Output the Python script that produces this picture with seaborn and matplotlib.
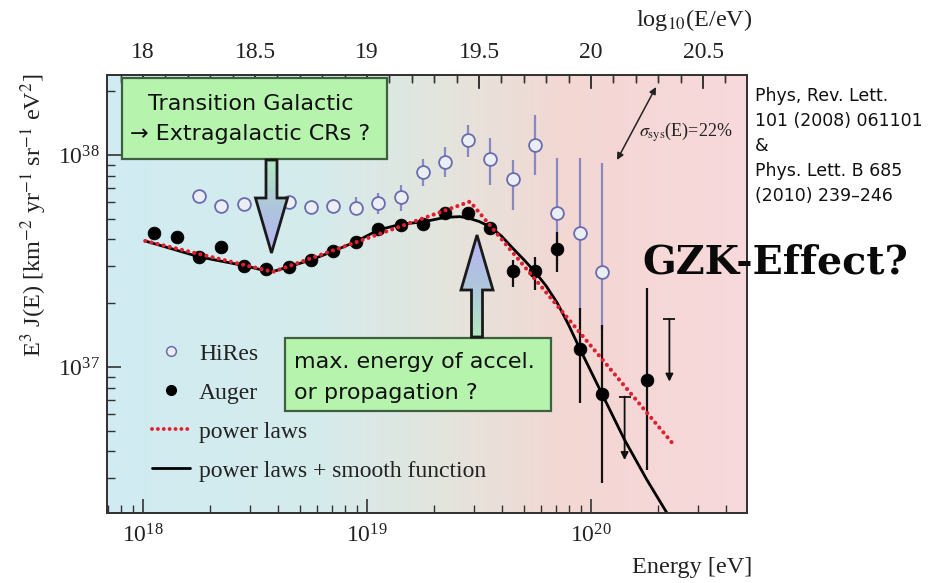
import numpy as np
import pandas as pd
import matplotlib
matplotlib.use("Agg")
import matplotlib.pyplot as plt
import seaborn as sns
from matplotlib.colors import LinearSegmentedColormap
from matplotlib.patches import Polygon, Rectangle
from matplotlib.lines import Line2D
from matplotlib.ticker import MultipleLocator, FuncFormatter, NullFormatter, LogLocator

# ---------------- data (log10 E/eV ; E^3 J in units of 1e37) ----------------
auger_logE = [18.05, 18.15, 18.25, 18.35, 18.45, 18.55, 18.65, 18.75, 18.85, 18.95, 19.05,
              19.15, 19.25, 19.35, 19.45, 19.55, 19.65, 19.75, 19.85, 19.95, 20.05, 20.25]
auger_J = [4.30, 4.09, 3.29, 3.69, 3.01, 2.89, 2.97, 3.20, 3.52, 3.90, 4.47,
           4.68, 4.73, 5.31, 5.31, 4.55, 2.84, 2.84, 3.61, 1.22, 0.743, 0.869]
auger_lo = [4.15, 3.95, 3.19, 3.58, 2.93, 2.82, 2.90, 3.12, 3.42, 3.78, 4.33,
            4.52, 4.55, 5.08, 5.02, 4.20, 2.38, 2.31, 2.81, 0.676, 0.284, 0.327]
auger_hi = [4.45, 4.23, 3.39, 3.80, 3.09, 2.96, 3.04, 3.28, 3.62, 4.02, 4.61,
            4.84, 4.91, 5.54, 5.60, 4.83, 3.20, 3.30, 4.34, 1.90, 1.58, 2.36]
auger_ul_logE = [20.15, 20.35]
auger_ul_top = [0.725, 1.68]
auger_ul_tip = [0.364, 0.853]

hires_logE = [18.25, 18.35, 18.45, 18.55, 18.65, 18.75, 18.85, 18.95, 19.05, 19.15,
              19.25, 19.35, 19.45, 19.55, 19.65, 19.75, 19.85, 19.95, 20.05]
hires_J = [6.41, 5.74, 5.88, 5.81, 6.03, 5.71, 5.77, 5.64, 5.92, 6.36,
           8.28, 9.29, 11.8, 9.55, 7.71, 11.1, 5.34, 4.27, 2.82]
hires_lo = [6.20, 5.55, 5.68, 5.60, 5.75, 5.27, 5.32, 5.21, 5.27, 5.45,
            7.14, 7.88, 9.79, 7.21, 5.51, 8.05, 3.03, 1.86, 1.50]
hires_hi = [6.62, 5.93, 6.08, 6.02, 6.32, 6.03, 6.19, 6.34, 6.62, 7.21,
            9.58, 10.9, 13.9, 12.0, 9.46, 15.4, 9.68, 9.68, 9.17]

pl_logE = [18.01, 18.58, 19.46, 20.37]
pl_J = [3.93, 2.81, 6.03, 0.429]

sm_logE = [18.01, 18.25, 18.45, 18.55, 18.58, 18.65, 18.75, 18.85, 18.95, 19.05, 19.15,
           19.25, 19.35, 19.415, 19.45, 19.50, 19.55, 19.60, 19.65, 19.70, 19.75, 19.80,
           19.85, 19.90, 19.95, 20.05, 20.15, 20.25, 20.34, 20.40]
sm_J = [3.93, 3.31, 3.01, 2.84, 2.82, 2.97, 3.20, 3.52, 3.90, 4.43, 4.71,
        4.84, 5.08, 5.12, 5.05, 4.86, 4.59, 4.15, 3.64, 3.21, 2.81, 2.41,
        2.00, 1.58, 1.22, 0.743, 0.453, 0.293, 0.204, 0.158]

top_ticks = [18, 18.5, 19, 19.5, 20, 20.5]
UNIT = 1e37

def E(v):
    return 10 ** np.asarray(v, dtype=float)

def J(v):
    return np.asarray(v, dtype=float) * UNIT

# ---------------- style ----------------
sns.set_theme(style="ticks")
plt.rcParams["font.family"] = ["Liberation Serif", "DejaVu Serif"]
plt.rcParams["mathtext.fontset"] = "stix"
AX_COL = "#333333"
TXT = "#222222"

W, H = 946, 583
fig = plt.figure(figsize=(W / 100, H / 100), dpi=100)
fig.patch.set_facecolor("white")
L, R, T, B = 107, 747, 75, 513
LOGX0, LOGX1 = 17.8393, 20.6964
ax = fig.add_axes([L / W, 1 - B / H, (R - L) / W, (B - T) / H])
ax.set_xscale("log")
ax.set_yscale("log")
ax.set_xlim(10 ** LOGX0, 10 ** LOGX1)
ax.set_ylim(10 ** 36.3113, 10 ** 38.3774)

# gradient background
cmap = LinearSegmentedColormap.from_list("bg", [
    (0.0, "#d0ecf2"), (0.33, "#d5ebec"), (0.52, "#e3e5dd"),
    (0.72, "#f3d7d3"), (1.0, "#f8d9dc")])
grad = np.linspace(0, 1, 256).reshape(1, -1)
ax.imshow(grad, extent=(0, 1, 0, 1), transform=ax.transAxes, aspect="auto",
          cmap=cmap, zorder=-10, interpolation="bicubic")

# error bars
hx = E(hires_logE)
ax.errorbar(hx, J(hires_J), yerr=[J(hires_J) - J(hires_lo), J(hires_hi) - J(hires_J)],
            fmt="none", ecolor="#8a88c0", elinewidth=1.6, capsize=0, zorder=2)
axx = E(auger_logE)
ax.errorbar(axx, J(auger_J), yerr=[J(auger_J) - J(auger_lo), J(auger_hi) - J(auger_J)],
            fmt="none", ecolor="#111111", elinewidth=1.6, capsize=0, zorder=3)

# markers
hires_df = pd.DataFrame({"E": hx, "J": J(hires_J)})
sns.scatterplot(data=hires_df, x="E", y="J", ax=ax, marker="o", s=85,
                facecolor="#eceef6", edgecolor="#6a6cb0", linewidth=1.3, zorder=4)
auger_df = pd.DataFrame({"E": axx, "J": J(auger_J)})
sns.scatterplot(data=auger_df, x="E", y="J", ax=ax, marker="o", s=85,
                color="black", edgecolor="black", linewidth=0.5, zorder=5)

# upper limits
for xl, yt, yp in zip(E(auger_ul_logE), J(auger_ul_top), J(auger_ul_tip)):
    ax.annotate("", xy=(xl, yp), xytext=(xl, yt),
                arrowprops=dict(arrowstyle="-|>", color="#111111", lw=1.3,
                                mutation_scale=11, shrinkA=0, shrinkB=0), zorder=5)
ax.plot(E(auger_ul_logE), J(auger_ul_top), ls="none", marker="_", ms=8, mew=1.3,
        color="#111111", zorder=5)

# curves
sm_df = pd.DataFrame({"E": E(sm_logE), "J": J(sm_J)})
sns.lineplot(data=sm_df, x="E", y="J", ax=ax, color="black", lw=2.0, sort=False,
             estimator=None, zorder=6)
pl_df = pd.DataFrame({"E": E(pl_logE), "J": J(pl_J)})
sns.lineplot(data=pl_df, x="E", y="J", ax=ax, color="#e0202e", lw=3.0, sort=False,
             estimator=None, zorder=7, linestyle=(0, (0.01, 1.5)), dash_capstyle="round")

# axes styling
for s in ax.spines.values():
    s.set_color(AX_COL)
    s.set_linewidth(1.3)
ax.tick_params(axis="both", which="both", direction="in", colors=AX_COL,
               labelcolor=TXT, labelsize=17)
ax.tick_params(axis="x", which="major", length=10, width=1.2, pad=8, top=False)
ax.tick_params(axis="x", which="minor", length=5.5, width=1.0, top=False)
ax.tick_params(axis="y", which="major", length=10, width=1.2, pad=5, right=False)
ax.tick_params(axis="y", which="minor", length=6, width=1.0, right=False)
ax.xaxis.set_minor_locator(LogLocator(base=10, subs=np.arange(2, 10)))
ax.yaxis.set_minor_locator(LogLocator(base=10, subs=np.arange(2, 10)))
ax.xaxis.set_minor_formatter(NullFormatter())
ax.yaxis.set_minor_formatter(NullFormatter())

ax.set_xlabel("Energy [eV]", fontsize=17.5, ha="right", va="center", color=TXT)
ax.xaxis.set_label_coords((752 - L) / (R - L), (B - 567) / (B - T))
ax.set_ylabel(r"E$^{3}$ J(E) [km$^{-2}$ yr$^{-1}$ sr$^{-1}$ eV$^{2}$]", fontsize=17.5,
              va="center", ha="center", color=TXT)
ax.yaxis.set_label_coords((34 - L) / (R - L), (B - 215) / (B - T))

# top axis: log10(E/eV), linear in log10 -> same positions as the bottom log axis
tax = ax.twiny()
tax.set_xlim(LOGX0, LOGX1)
tax.set_xticks(top_ticks)
tax.xaxis.set_major_formatter(FuncFormatter(lambda v, p: "%g" % v))
tax.xaxis.set_minor_locator(MultipleLocator(0.1))
tax.tick_params(axis="x", which="both", top=True, labeltop=True, bottom=False,
                labelbottom=False, direction="in", colors=AX_COL)
tax.tick_params(axis="x", which="major", length=10, width=1.2,
                labelcolor=TXT, labelsize=17, pad=9)
tax.tick_params(axis="x", which="minor", length=5.5, width=1.0)
for s in tax.spines.values():
    s.set_color(AX_COL)
    s.set_linewidth(1.3)
tax.tick_params(axis="y", left=False, right=False, labelleft=False, labelright=False)

# legend
handles = [
    Line2D([], [], ls="none", marker="o", ms=7, mfc="#eceef6", mec="#6a6cb0", mew=1.1),
    Line2D([], [], ls="none", marker="o", ms=7, mfc="black", mec="black"),
    Line2D([], [], color="#e0202e", lw=2.8, ls=(0, (0.01, 1.5)), dash_capstyle="round"),
    Line2D([], [], color="black", lw=2.0),
]
labels = ["HiRes", "Auger", "power laws", "power laws + smooth function"]
tax.legend(handles, labels, loc="upper left", bbox_to_anchor=((152 - L) / (R - L), (B - 343) / (B - T)),
           frameon=False, fontsize=17, handlelength=1.6, handletextpad=0.4,
           labelspacing=0.74, borderpad=0, borderaxespad=0, labelcolor=TXT)

# ---------------- overlay annotations (pixel coordinates) ----------------
ov = fig.add_axes([0, 0, 1, 1], zorder=10)
ov.set_xlim(0, W)
ov.set_ylim(H, 0)
ov.axis("off")
ov.patch.set_alpha(0)

# inward tick marks along the top spine, placed through the top axis' own transform
top_minor = [v for v in np.round(np.arange(17.9, 20.65, 0.1), 1) if v not in top_ticks]
def top_px(vals):
    pts = np.column_stack([np.asarray(vals, float), np.zeros(len(vals))])
    return tax.transData.transform(pts)[:, 0] * W / fig.bbox.width
ov.vlines(top_px(top_minor), T, T + 7, colors=AX_COL, lw=1.0, zorder=1)
ov.vlines(top_px(top_ticks), T, T + 13, colors=AX_COL, lw=1.2, zorder=1)

ov.text(752, 20, r"log$_{10}$(E/eV)", fontsize=17.5, ha="right", va="center", color=TXT)

BOX_FC = "#b6f3ad"
BOX_EC = "#3f5f40"
ov.add_patch(Rectangle((122, 78), 265, 81, fc=BOX_FC, ec=BOX_EC, lw=1.6, zorder=2))
ov.add_patch(Rectangle((285, 338), 266, 73, fc=BOX_FC, ec=BOX_EC, lw=1.6, zorder=2))
SANS = ["DejaVu Sans"]
ov.text(251, 104, "Transition Galactic", ha="center", va="center", fontsize=16,
        family=SANS, color="#111111", zorder=3)
ov.text(250, 134, "\u2192 Extragalactic CRs ?", ha="center", va="center", fontsize=16,
        family=SANS, color="#111111", zorder=3)
ov.text(294, 362, "max. energy of accel.", ha="left", va="center", fontsize=16,
        family=SANS, color="#111111", zorder=3)
ov.text(294, 393, "or propagation ?", ha="left", va="center", fontsize=16,
        family=SANS, color="#111111", zorder=3)

acm = LinearSegmentedColormap.from_list("ad", ["#b4e8c2", "#aec6dc", "#b8b4f6"])

def arrow(cx, y_base, y_head, y_tip, shaft_w=11, head_w=32):
    pts = [(cx - shaft_w / 2, y_base), (cx - shaft_w / 2, y_head), (cx - head_w / 2, y_head),
           (cx, y_tip), (cx + head_w / 2, y_head), (cx + shaft_w / 2, y_head),
           (cx + shaft_w / 2, y_base)]
    poly = Polygon(pts, closed=True, fc="none", ec="#1a1a1a", lw=2.0, zorder=5,
                   joinstyle="miter")
    ov.add_patch(poly)
    clip = Polygon(pts, closed=True, fc="none", ec="none", transform=ov.transData)
    ov.add_patch(clip)
    g = np.linspace(0, 1, 200).reshape(-1, 1)
    if y_tip < y_base:
        g = g[::-1]
    y0, y1 = min(y_base, y_tip), max(y_base, y_tip)
    im = ov.imshow(g, extent=(cx - head_w / 2, cx + head_w / 2, y1, y0), origin="upper",
                   cmap=acm, aspect="auto", zorder=4, interpolation="bicubic")
    im.set_clip_path(clip)

arrow(271.5, 160, 198, 253)
arrow(477, 337, 290, 235)
ov.set_xlim(0, W)
ov.set_ylim(H, 0)

# sigma_sys arrow
ov.annotate("", xy=(656, 87), xytext=(617, 160),
            arrowprops=dict(arrowstyle="<|-|>", color="#222222", lw=1.1, mutation_scale=10,
                            shrinkA=0, shrinkB=0), zorder=6)
ov.text(639, 132, r"$\sigma_{\rm sys}$(E)=22%", fontsize=13, ha="left", va="center",
        color="#222222", zorder=6)

# GZK
ov.text(642, 262, "GZK-Effect?", fontsize=28.5, family=["DejaVu Serif"], weight="heavy",
        ha="left", va="center", color="#0a0a0a", zorder=6)

# reference text
for yy, s in zip([96, 121, 146, 171, 196],
                 ["Phys, Rev. Lett.", "101 (2008) 061101", "&", "Phys. Lett. B 685",
                  "(2010) 239\u2013246"]):
    ov.text(755, yy, s, fontsize=12.5, family=SANS, ha="left", va="center",
            color="#111111", zorder=6)

fig.savefig("out.png", dpi=100)
